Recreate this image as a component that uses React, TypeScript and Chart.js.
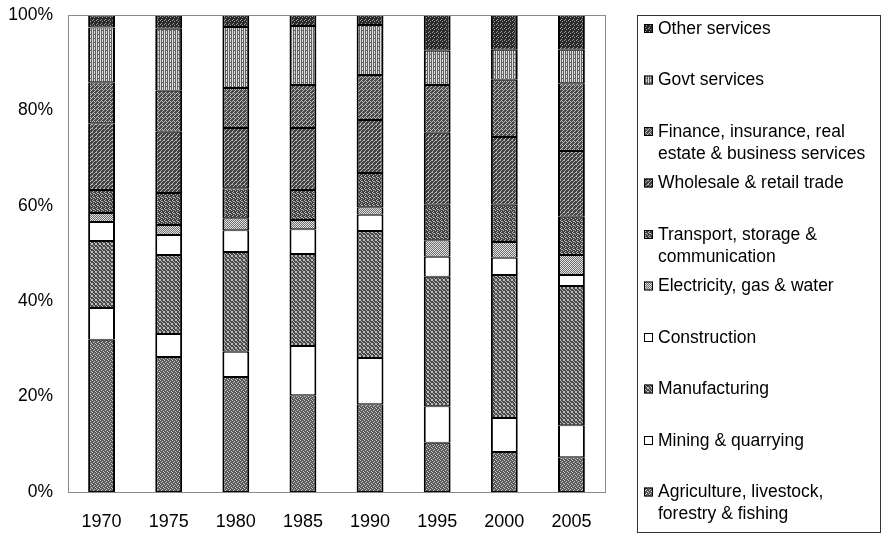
import React, { useEffect, useRef } from "react";
import { Chart, registerables } from "chart.js";

Chart.register(...registerables);

const years = ["1970", "1975", "1980", "1985", "1990", "1995", "2000", "2005"];

const agriculture = [31.9, 28.3, 24.1, 20.3, 18.4, 10.3, 8.4, 7.3];
const mining = [6.7, 4.8, 5.3, 10.3, 9.7, 7.7, 7.1, 6.7];
const manufacturing = [14.0, 16.6, 20.9, 19.3, 26.6, 27.1, 30.0, 29.2];
const construction = [4.0, 4.2, 4.6, 5.2, 3.4, 4.2, 3.6, 2.3];
const electricity = [1.9, 2.1, 2.5, 1.9, 1.6, 3.5, 3.3, 4.2];
const transport = [4.8, 6.7, 6.3, 6.3, 7.2, 7.4, 7.8, 8.0];
const wholesale = [14.0, 12.8, 12.6, 13.0, 11.1, 15.1, 14.2, 13.8];
const finance = [8.6, 8.6, 8.4, 9.0, 9.4, 10.0, 12.0, 14.2];
const govt = [11.5, 13.0, 12.8, 12.4, 10.5, 7.2, 6.3, 7.0];
const other = [2.5, 2.9, 2.5, 2.3, 2.1, 7.5, 7.3, 7.3];

const yTicks = [0, 20, 40, 60, 80, 100];

const seriesNames = [
  "Agriculture, livestock,\nforestry & fishing",
  "Mining & quarrying",
  "Manufacturing",
  "Construction",
  "Electricity, gas & water",
  "Transport, storage &\ncommunication",
  "Wholesale & retail trade",
  "Finance, insurance, real\nestate & business services",
  "Govt services",
  "Other services",
];

const seriesValues = [
  agriculture,
  mining,
  manufacturing,
  construction,
  electricity,
  transport,
  wholesale,
  finance,
  govt,
  other,
];

// pattern styles: [background, foreground, bit rows]
const patternSpecs: [string, string, string[]][] = [
  ["#5a5a5a", "#c8c8c8", ["1000", "0010", "0100", "0001"]],
  ["#ffffff", "#ffffff", ["0000", "0000", "0000", "0000"]],
  ["#4a4a4a", "#bdbdbd", ["1001", "0100", "0010", "1001"]],
  ["#ffffff", "#ffffff", ["0000", "0000", "0000", "0000"]],
  ["#707070", "#e0e0e0", ["1010", "0101", "1010", "0101"]],
  ["#404040", "#b8b8b8", ["1000", "0110", "0001", "0100"]],
  ["#424242", "#b4b4b4", ["1001", "0010", "0100", "1000"]],
  ["#4a4a4a", "#bcbcbc", ["0100", "1010", "0001", "0010"]],
  ["#626262", "#dddddd", ["1010", "1010", "1000", "1010"]],
  ["#2a2a2a", "#9a9a9a", ["1000", "0010", "0000", "0100"]],
];

function makePattern(bg: string, fg: string, bits: string[]): CanvasPattern | string {
  const c = document.createElement("canvas");
  c.width = 4;
  c.height = 4;
  const x = c.getContext("2d");
  if (!x) return bg;
  x.fillStyle = bg;
  x.fillRect(0, 0, 4, 4);
  x.fillStyle = fg;
  bits.forEach((row, r) => {
    for (let k = 0; k < row.length; k++) if (row[k] === "1") x.fillRect(k, r, 1, 1);
  });
  const p = x.createPattern(c, "repeat");
  return p || bg;
}

const FONT = "'Liberation Sans', Arial, sans-serif";

const frameAndLegend = {
  id: "frameAndLegend",
  afterDraw(chart: any) {
    const { ctx, chartArea } = chart;
    ctx.save();
    // plot frame
    ctx.strokeStyle = "#8a8a8a";
    ctx.lineWidth = 1;
    ctx.strokeRect(
      Math.round(chartArea.left) + 0.5,
      Math.round(chartArea.top) + 0.5,
      Math.round(chartArea.right - chartArea.left),
      Math.round(chartArea.bottom - chartArea.top)
    );
    // legend box
    const bx = 637.5, by = 15.5, bw = 243, bh = 517;
    ctx.strokeStyle = "#333";
    ctx.strokeRect(bx, by, bw, bh);
    const datasets = chart.data.datasets;
    const n = datasets.length;
    const itemGap = 51.5;
    const lineGap = 22;
    ctx.font = "17.5px " + FONT;
    ctx.textBaseline = "middle";
    ctx.textAlign = "left";
    for (let i = 0; i < n; i++) {
      const ds = datasets[n - 1 - i];
      const cy = 28 + i * itemGap;
      ctx.fillStyle = ds.backgroundColor;
      ctx.fillRect(644, cy - 4, 9, 9);
      ctx.strokeStyle = "#000";
      ctx.lineWidth = 1;
      ctx.strokeRect(644.5, cy - 3.5, 8, 8);
      ctx.fillStyle = "#000";
      const lines = String(ds.label).split("\n");
      lines.forEach((ln: string, j: number) => {
        ctx.fillText(ln, 658, cy + 1 + j * lineGap);
      });
    }
    ctx.restore();
  },
};

export default function App() {
  const ref = useRef<HTMLCanvasElement | null>(null);
  useEffect(() => {
    if (!ref.current) return;
    const datasets = seriesValues.map((vals, i) => {
      const [bg, fg, bits] = patternSpecs[i];
      return {
        label: seriesNames[i],
        data: vals,
        backgroundColor: makePattern(bg, fg, bits) as any,
        borderColor: "#000",
        borderWidth: { left: 2, right: 2, top: 1, bottom: 1 } as any,
        borderSkipped: false as any,
        barPercentage: 0.4,
        categoryPercentage: 1,
      };
    });
    const chart = new Chart(ref.current, {
      type: "bar",
      data: { labels: years, datasets },
      options: {
        animation: false,
        responsive: false,
        layout: { padding: { left: 0, top: 15, right: 280, bottom: 0 } },
        plugins: { legend: { display: false }, tooltip: { enabled: false } },
        scales: {
          x: {
            stacked: true,
            grid: { display: false, drawTicks: false },
            border: { display: false },
            ticks: { color: "#000", font: { family: FONT, size: 18 }, padding: 19 },
            afterFit: (s: any) => {
              s.height = 41;
              s.paddingLeft = 0;
              s.paddingRight = 0;
            },
          },
          y: {
            stacked: true,
            min: 0,
            max: 100,
            afterBuildTicks: (s: any) => {
              s.ticks = yTicks.map((v) => ({ value: v }));
            },
            grid: { display: false, drawTicks: false },
            border: { display: false },
            ticks: {
              color: "#000",
              font: { family: FONT, size: 17.5 },
              padding: 15,
              callback: (v: any) => v + "%",
            },
            afterFit: (s: any) => {
              s.width = 68;
              s.paddingTop = 0;
              s.paddingBottom = 0;
            },
          },
        },
      },
      plugins: [frameAndLegend],
    });
    return () => chart.destroy();
  }, []);
  return (
    <div style={{ position: "absolute", left: 0, top: 0, width: 885, height: 533, background: "#fff" }}>
      <canvas ref={ref} width={885} height={533} />
    </div>
  );
}
